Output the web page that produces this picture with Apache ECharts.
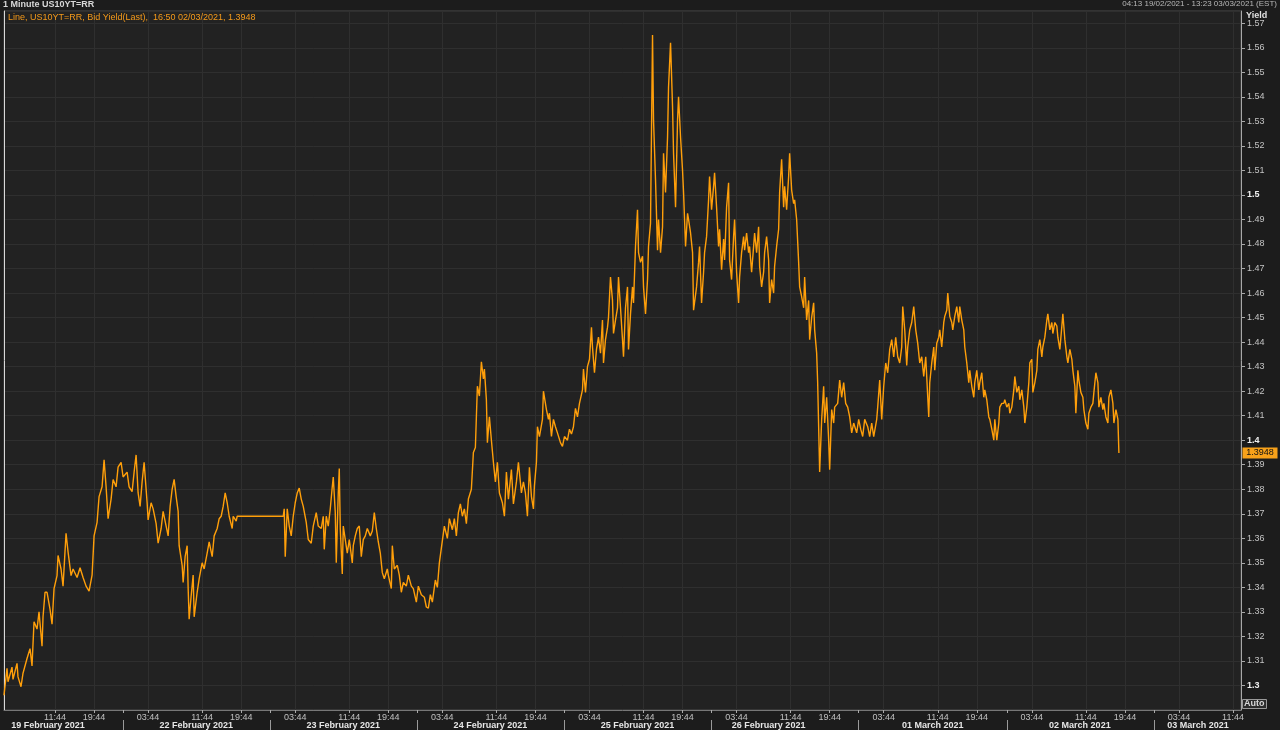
<!DOCTYPE html>
<html>
<head>
<meta charset="utf-8">
<script src="https://cdn.jsdelivr.net/npm/echarts@6/dist/echarts.min.js"></script>
<style>
html,body{margin:0;padding:0;background:#1c1c1c;}
#chart{width:1280px;height:730px;}
</style>
</head>
<body>
<div id="chart"></div>
<script>
// ---- axis structure (1 slot per minute-bar position) ----
const totalSlots = 1237;
const dayNames = ['19 February 2021','22 February 2021','23 February 2021','24 February 2021','25 February 2021','26 February 2021','01 March 2021','02 March 2021','03 March 2021'];
const dayStart = [-28, 119, 266, 413, 560, 707, 854, 1002, 1149];
const dayLabelSlot = [44, 192, 339, 486, 633, 764, 928, 1075, 1193];
const tickOffsets = [25, 79, 118];
const tickNames = ['03:44', '11:44', '19:44'];
const yTicks = [1.30,1.31,1.32,1.33,1.34,1.35,1.36,1.37,1.38,1.39,1.40,1.41,1.42,1.43,1.44,1.45,1.46,1.47,1.48,1.49,1.50,1.51,1.52,1.53,1.54,1.55,1.56,1.57];
const lastValue = 1.3948;

// ---- series: bar position (slot) and bid yield ----
const slots = [0,3,4,8,9,13,14,17,19,23,26,28,30,33,35,38,39,41,43,46,48,50,53,54,57,59,62,64,67,69,73,76,79,82,85,88,90,93,95,98,100,102,104,107,109,112,114,117,119,123,125,128,130,132,134,136,138,140,143,144,147,149,152,154,157,159,162,164,166,168,170,172,174,175,178,179,181,183,184,185,187,189,190,193,195,198,200,203,205,208,210,213,215,217,219,221,223,225,228,229,232,233,279,280,281,283,285,287,289,291,293,295,297,299,302,304,307,309,312,314,317,319,320,322,324,326,328,329,331,332,334,335,336,338,339,341,343,345,348,349,351,353,355,357,359,361,363,366,368,370,372,374,376,378,380,383,384,387,388,390,393,395,397,399,402,404,407,409,412,414,417,420,422,424,426,428,431,433,435,437,440,443,445,448,450,452,454,456,458,460,462,464,467,469,471,473,475,477,479,480,482,483,485,487,489,491,493,495,498,500,502,504,507,509,512,514,517,519,521,523,525,527,529,530,532,533,535,538,539,542,544,545,547,549,551,553,556,558,560,563,565,567,569,571,573,575,578,579,581,583,585,587,588,590,592,594,596,598,599,601,603,604,606,608,609,611,613,614,616,618,619,621,623,624,626,628,629,631,633,634,636,638,639,641,643,644,646,648,649,651,653,654,656,658,659,661,663,664,666,668,669,671,673,674,676,678,679,681,683,684,686,688,689,692,694,695,697,699,700,702,704,705,707,709,710,712,714,715,717,719,720,722,724,725,727,729,730,732,734,735,737,739,740,742,744,745,747,749,750,752,754,755,757,759,760,762,764,765,767,769,770,772,774,775,777,779,780,782,784,785,787,789,790,792,794,795,797,799,800,802,804,805,807,809,810,812,813,815,817,819,820,822,824,825,827,829,830,833,835,837,839,841,843,845,847,849,852,854,856,858,860,863,865,867,869,872,873,875,877,879,881,883,885,887,889,891,893,895,897,898,900,902,903,905,907,909,911,913,915,917,919,921,923,924,925,927,929,930,932,934,935,937,939,940,942,943,945,947,948,950,952,954,955,957,959,960,962,964,965,967,969,970,972,974,975,977,979,980,982,984,985,987,989,990,992,994,995,997,999,1000,1002,1004,1005,1007,1009,1010,1012,1014,1015,1017,1019,1020,1022,1024,1025,1027,1028,1030,1032,1033,1035,1037,1038,1040,1042,1043,1045,1047,1048,1050,1052,1053,1055,1057,1058,1060,1062,1063,1065,1067,1068,1070,1071,1073,1074,1076,1078,1079,1081,1083,1084,1086,1088,1089,1091,1093,1094,1096,1098,1099,1101,1103,1104,1106,1108,1109,1111,1113,1114];
const yields = [1.296,1.307,1.3015,1.3075,1.3025,1.309,1.3035,1.2995,1.305,1.311,1.315,1.308,1.326,1.323,1.330,1.316,1.328,1.338,1.338,1.331,1.325,1.3395,1.3448,1.353,1.3475,1.3405,1.362,1.3545,1.3448,1.3475,1.344,1.348,1.344,1.3405,1.3385,1.345,1.361,1.3665,1.377,1.381,1.392,1.381,1.368,1.376,1.384,1.381,1.389,1.391,1.385,1.387,1.381,1.379,1.387,1.394,1.3785,1.373,1.383,1.391,1.3745,1.3675,1.3745,1.372,1.366,1.358,1.364,1.371,1.365,1.361,1.373,1.380,1.384,1.377,1.371,1.357,1.349,1.342,1.3525,1.357,1.3395,1.327,1.3365,1.345,1.328,1.338,1.3435,1.350,1.3475,1.354,1.3585,1.3525,1.361,1.364,1.368,1.369,1.373,1.3785,1.3745,1.369,1.364,1.369,1.367,1.369,1.369,1.372,1.3525,1.372,1.365,1.361,1.369,1.3745,1.3785,1.3805,1.376,1.373,1.3665,1.3595,1.358,1.365,1.3705,1.365,1.364,1.369,1.3555,1.369,1.365,1.372,1.381,1.385,1.3705,1.350,1.3785,1.3885,1.364,1.3455,1.365,1.3595,1.354,1.3595,1.350,1.357,1.361,1.364,1.365,1.3525,1.3595,1.361,1.364,1.361,1.363,1.3705,1.364,1.3585,1.354,1.346,1.3435,1.3475,1.345,1.3395,1.357,1.3475,1.349,1.345,1.338,1.342,1.3405,1.345,1.3405,1.3395,1.334,1.3405,1.337,1.336,1.332,1.3315,1.337,1.334,1.343,1.340,1.350,1.356,1.365,1.360,1.368,1.3635,1.368,1.361,1.3705,1.374,1.369,1.372,1.366,1.376,1.380,1.395,1.397,1.422,1.418,1.432,1.425,1.429,1.4165,1.399,1.4095,1.400,1.391,1.383,1.391,1.3785,1.3745,1.369,1.387,1.376,1.388,1.374,1.383,1.391,1.3785,1.383,1.3785,1.369,1.389,1.377,1.372,1.3815,1.391,1.4055,1.4015,1.4085,1.420,1.4125,1.4085,1.411,1.4015,1.4085,1.4055,1.403,1.399,1.3975,1.4015,1.400,1.4045,1.4025,1.4055,1.413,1.4095,1.415,1.4205,1.429,1.4195,1.430,1.433,1.446,1.438,1.4275,1.437,1.442,1.4355,1.449,1.4315,1.441,1.446,1.450,1.4665,1.457,1.4435,1.449,1.454,1.4665,1.454,1.441,1.434,1.454,1.4625,1.437,1.4515,1.4625,1.456,1.479,1.494,1.4765,1.4725,1.475,1.4625,1.4515,1.4655,1.479,1.4885,1.5652,1.5305,1.506,1.4775,1.490,1.4765,1.487,1.517,1.501,1.5235,1.544,1.562,1.536,1.517,1.495,1.5305,1.540,1.5235,1.510,1.501,1.479,1.4925,1.490,1.4845,1.4765,1.453,1.4625,1.4725,1.479,1.456,1.4685,1.4765,1.483,1.498,1.5075,1.494,1.5035,1.509,1.495,1.479,1.486,1.4695,1.482,1.4735,1.495,1.505,1.4735,1.4655,1.483,1.490,1.4685,1.456,1.4665,1.4765,1.483,1.4775,1.4845,1.4765,1.479,1.4685,1.479,1.4845,1.4765,1.487,1.471,1.4625,1.4685,1.4765,1.483,1.4735,1.456,1.4655,1.460,1.471,1.479,1.486,1.501,1.5145,1.495,1.5035,1.494,1.5075,1.517,1.502,1.4965,1.498,1.490,1.4725,1.4625,1.4585,1.454,1.4665,1.449,1.457,1.441,1.450,1.456,1.445,1.4355,1.4235,1.387,1.4085,1.422,1.407,1.4175,1.400,1.388,1.4125,1.407,1.4135,1.415,1.4245,1.4175,1.4235,1.415,1.4135,1.4095,1.403,1.407,1.403,1.4085,1.4045,1.4015,1.4085,1.4055,1.4015,1.407,1.4015,1.4085,1.4135,1.4245,1.4085,1.422,1.4315,1.4275,1.437,1.441,1.434,1.442,1.434,1.4315,1.438,1.4545,1.445,1.4305,1.438,1.445,1.448,1.4545,1.445,1.4395,1.4315,1.434,1.426,1.434,1.4175,1.4095,1.4235,1.4315,1.438,1.4285,1.4395,1.442,1.445,1.438,1.448,1.4505,1.453,1.460,1.4505,1.448,1.445,1.4505,1.4545,1.448,1.4545,1.449,1.445,1.438,1.4315,1.4235,1.4285,1.422,1.4175,1.4235,1.4285,1.4205,1.4235,1.4275,1.4175,1.4205,1.4165,1.4095,1.4085,1.4045,1.400,1.4085,1.400,1.407,1.4135,1.415,1.415,1.4165,1.4135,1.415,1.411,1.4135,1.4205,1.426,1.4195,1.422,1.4165,1.4205,1.4135,1.407,1.4135,1.4235,1.4315,1.433,1.4195,1.4235,1.4285,1.437,1.441,1.434,1.438,1.442,1.449,1.4515,1.445,1.448,1.4435,1.448,1.4465,1.442,1.437,1.4465,1.4515,1.441,1.434,1.4315,1.437,1.433,1.4285,1.422,1.411,1.4285,1.4245,1.4195,1.4175,1.4125,1.407,1.4045,1.411,1.4135,1.415,1.4195,1.4275,1.4235,1.4135,1.4175,1.4125,1.415,1.4095,1.407,1.4175,1.4205,1.415,1.407,1.4125,1.4085,1.3948];

// ---- build helpers ----
const categories = [];
for (let i = 0; i < totalSlots; i++) categories.push(String(i));
const timeLabelAt = {};
dayStart.forEach(s => tickOffsets.forEach((o, k) => {
  const idx = s + o;
  if (idx >= 0 && idx < totalSlots) timeLabelAt[idx] = tickNames[k];
}));
const boundarySet = new Set(dayStart.filter(s => s > 0 && s < totalSlots));
const dayLabelAt = {};
dayLabelSlot.forEach((s, i) => { dayLabelAt[s] = dayNames[i]; });
const seriesData = slots.map((s, i) => [s, yields[i]]);

const FONT = 'Liberation Sans';
const chart = echarts.init(document.getElementById('chart'), null, {renderer: 'canvas'});
chart.setOption({
  animation: false,
  backgroundColor: '#1c1c1c',
  textStyle: {fontFamily: FONT},
  title: [
    {text: '1 Minute US10YT=RR', left: 3, top: 0, padding: 0,
     textStyle: {color: '#d8d8d8', fontSize: 9, fontWeight: 'bold', fontFamily: FONT}},
    {text: '04:13 19/02/2021 - 13:23 03/03/2021 (EST)', right: 3, top: 0, padding: 0,
     textStyle: {color: '#b8b8b8', fontSize: 8, fontWeight: 'normal', fontFamily: FONT}},
    {text: 'Line, US10YT=RR, Bid Yield(Last),  16:50 02/03/2021, ' + lastValue.toFixed(4), left: 8, top: 13, padding: 0,
     textStyle: {color: '#f59a1a', fontSize: 9, fontWeight: 'normal', fontFamily: FONT}},
    {text: 'Yield', left: 1246, top: 11, padding: 0,
     textStyle: {color: '#e0e0e0', fontSize: 9, fontWeight: 'bold', fontFamily: FONT}},
    {text: 'Auto', left: 1242, top: 699, padding: [0, 2, 0, 2], borderColor: '#9a9a9a', borderWidth: 1,
     backgroundColor: '#2c2c2c',
     textStyle: {color: '#d8d8d8', fontSize: 9, fontWeight: 'bold', fontFamily: FONT, lineHeight: 10}}
  ],
  grid: {left: 4, right: 39, top: 11, bottom: 20, show: true, backgroundColor: '#222222', borderColor: '#4a4a4a', borderWidth: 1},
  xAxis: [
    {
      type: 'category', data: categories, boundaryGap: false, position: 'bottom',
      axisLine: {show: true, lineStyle: {color: '#777', width: 1}},
      axisTick: {show: true, length: 3, lineStyle: {color: '#aaa'},
        interval: (i) => (timeLabelAt[i] !== undefined) || boundarySet.has(i)},
      axisLabel: {show: true, color: '#c0c0c0', fontSize: 9, margin: 3, fontFamily: FONT,
        interval: (i) => timeLabelAt[i] !== undefined,
        formatter: (v, i) => timeLabelAt[i] || ''},
      splitLine: {show: true, lineStyle: {color: '#2f2f2f', width: 1},
        interval: (i) => timeLabelAt[i] !== undefined}
    },
    {
      type: 'category', data: categories, boundaryGap: false, position: 'bottom', offset: 10,
      axisLine: {show: false},
      axisTick: {show: true, length: 10, lineStyle: {color: '#9a9a9a'},
        interval: (i) => boundarySet.has(i)},
      axisLabel: {show: true, color: '#e6e6e6', fontSize: 9, fontWeight: 'bold', margin: 1, fontFamily: FONT,
        interval: (i) => dayLabelAt[i] !== undefined,
        formatter: (v, i) => dayLabelAt[i] || ''},
      splitLine: {show: false}
    }
  ],
  yAxis: [
    {
      type: 'value', position: 'right', min: 1.29, max: 1.575, interval: 0.01,
      axisLine: {show: true, lineStyle: {color: '#a8a8a8'}},
      axisTick: {show: true, length: 4, lineStyle: {color: '#a8a8a8'}},
      axisLabel: {
        color: '#c4c4c4', fontSize: 9, margin: 6, fontFamily: FONT,
        showMinLabel: false, showMaxLabel: false,
        formatter: (v) => {
          const r = Math.round(v * 100) / 100;
          if (yTicks.indexOf(r) < 0) return '';
          const s = String(r);
          return (Math.round(v * 10) / 10 === r) ? '{b|' + s + '}' : s;
        },
        rich: {b: {fontWeight: 'bold', color: '#f0f0f0', fontSize: 9, fontFamily: FONT}}
      },
      splitLine: {show: true, lineStyle: {color: '#2f2f2f', width: 1}}
    },
    {
      type: 'value', position: 'left', min: 1.29, max: 1.575,
      axisLine: {show: true, lineStyle: {color: '#d8d8d8', width: 1}},
      axisTick: {show: false}, axisLabel: {show: false}, splitLine: {show: false}
    }
  ],
  series: [{
    type: 'line', data: seriesData, xAxisIndex: 0, yAxisIndex: 0,
    showSymbol: false, symbol: 'none',
    lineStyle: {color: '#ff9f0a', width: 1.4},
    markPoint: {
      silent: true,
      symbol: 'rect', symbolSize: [35, 11], symbolOffset: [19, 0],
      itemStyle: {color: '#f7a11a'},
      data: [{coord: [totalSlots - 1, lastValue], value: lastValue}],
      label: {show: true, position: 'inside', formatter: lastValue.toFixed(4),
        color: '#111', fontSize: 9, fontFamily: FONT}
    }
  }]
});
</script>
</body>
</html>
